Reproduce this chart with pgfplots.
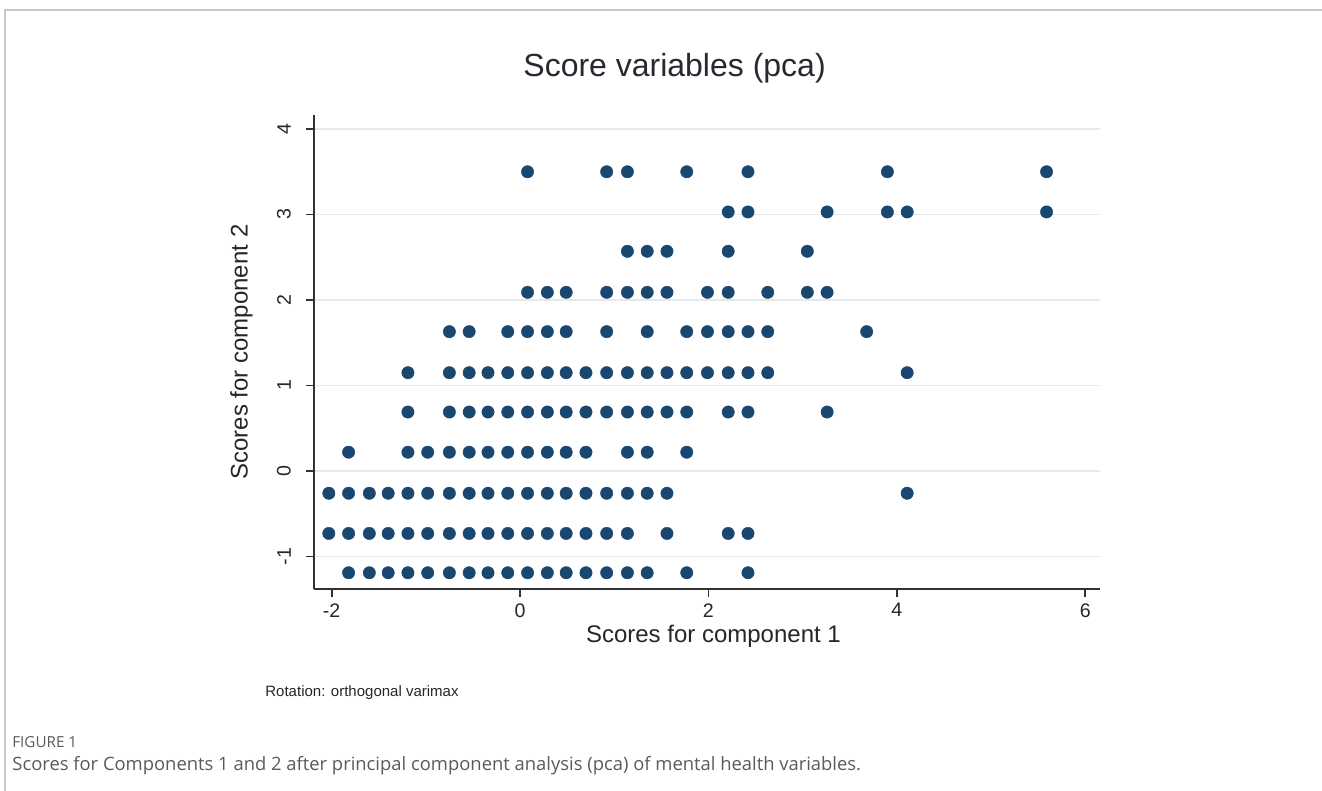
\documentclass[border=0pt]{standalone}
\usepackage{fontspec}
\setmainfont{Liberation Sans}
\newfontfamily\capfont{Open Sans}
\usepackage{pgfplots}
\pgfplotsset{compat=1.18}
\definecolor{statanavy}{RGB}{26,71,111}
\definecolor{gridc}{RGB}{230,233,236}
\definecolor{axisc}{RGB}{50,50,50}
\definecolor{capgray}{RGB}{90,90,90}
\definecolor{framec}{RGB}{200,200,200}
\definecolor{titlec}{RGB}{40,40,48}

\pgfplotstableread{
x y
0.08 3.50
0.92 3.50
1.14 3.50
1.77 3.50
2.42 3.50
3.90 3.50
5.59 3.50
2.21 3.03
2.42 3.03
3.26 3.03
3.90 3.03
4.11 3.03
5.59 3.03
1.14 2.57
1.35 2.57
1.56 2.57
2.21 2.57
3.05 2.57
0.08 2.09
0.29 2.09
0.49 2.09
0.92 2.09
1.14 2.09
1.35 2.09
1.56 2.09
1.99 2.09
2.21 2.09
2.63 2.09
3.05 2.09
3.26 2.09
-0.75 1.63
-0.54 1.63
-0.13 1.63
0.08 1.63
0.29 1.63
0.49 1.63
0.92 1.63
1.35 1.63
1.77 1.63
1.99 1.63
2.21 1.63
2.42 1.63
2.63 1.63
3.68 1.63
-1.19 1.15
-0.75 1.15
-0.54 1.15
-0.34 1.15
-0.13 1.15
0.08 1.15
0.29 1.15
0.49 1.15
0.70 1.15
0.92 1.15
1.14 1.15
1.35 1.15
1.56 1.15
1.77 1.15
1.99 1.15
2.21 1.15
2.42 1.15
2.63 1.15
4.11 1.15
-1.19 0.69
-0.75 0.69
-0.54 0.69
-0.34 0.69
-0.13 0.69
0.08 0.69
0.29 0.69
0.49 0.69
0.70 0.69
0.92 0.69
1.14 0.69
1.35 0.69
1.56 0.69
1.77 0.69
2.21 0.69
2.42 0.69
3.26 0.69
-1.82 0.22
-1.19 0.22
-0.98 0.22
-0.75 0.22
-0.54 0.22
-0.34 0.22
-0.13 0.22
0.08 0.22
0.29 0.22
0.49 0.22
0.70 0.22
1.14 0.22
1.35 0.22
1.77 0.22
-2.03 -0.26
-1.82 -0.26
-1.60 -0.26
-1.40 -0.26
-1.19 -0.26
-0.98 -0.26
-0.75 -0.26
-0.54 -0.26
-0.34 -0.26
-0.13 -0.26
0.08 -0.26
0.29 -0.26
0.49 -0.26
0.70 -0.26
0.92 -0.26
1.14 -0.26
1.35 -0.26
1.56 -0.26
4.11 -0.26
-2.03 -0.73
-1.82 -0.73
-1.60 -0.73
-1.40 -0.73
-1.19 -0.73
-0.98 -0.73
-0.75 -0.73
-0.54 -0.73
-0.34 -0.73
-0.13 -0.73
0.08 -0.73
0.29 -0.73
0.49 -0.73
0.70 -0.73
0.92 -0.73
1.14 -0.73
1.56 -0.73
2.21 -0.73
2.42 -0.73
-1.82 -1.19
-1.60 -1.19
-1.40 -1.19
-1.19 -1.19
-0.98 -1.19
-0.75 -1.19
-0.54 -1.19
-0.34 -1.19
-0.13 -1.19
0.08 -1.19
0.29 -1.19
0.49 -1.19
0.70 -1.19
0.92 -1.19
1.14 -1.19
1.35 -1.19
1.77 -1.19
2.42 -1.19
}\scores

\begin{document}
\begin{tikzpicture}[x=0.5pt,y=-0.5pt]
\path[use as bounding box] (0,0) rectangle (1322,791);
% figure frame
\draw[framec, line width=0.75pt] (5,791) -- (5,10) -- (1322,10);

\begin{axis}[
  at={(157.15pt,-294.5pt)}, anchor=south west,
  scale only axis, width=392.85pt, height=237pt,
  xmin=-2.184, xmax=6.157, ymin=-1.380, ymax=4.164,
  axis x line*=bottom, axis y line*=left,
  axis line style={draw=axisc, line width=0.9pt, -},
  xtick={-2,0,2,4,6}, ytick={-1,0,1,2,3,4},
  minor tick num=0,
  tick align=outside, major tick length=4pt,
  every tick/.style={axisc, line width=0.9pt},
  ymajorgrids, grid style={gridc, line width=0.8pt},
  tick label style={font=\fontsize{9.8}{10}\selectfont, text=black!85},
  /pgf/number format/assume math mode=true,
  xticklabel style={anchor=north, inner sep=0pt, yshift=-3pt},
  yticklabel style={xshift=-7.5pt, rotate=90, anchor=south, inner sep=0pt},
  xlabel={Scores for component 1}, ylabel={Scores for component 2},
  label style={font=\fontsize{12}{13}\selectfont, text=black!85},
  xlabel style={at={(axis description cs:0.508,0)}, anchor=center, yshift=-23.5pt},
  ylabel style={at={(axis description cs:-0.0929,0.5)}, anchor=center},
]
\addplot[only marks, mark=*, mark size=3.1pt,
  mark options={fill=statanavy, draw=statanavy, line width=0.2pt}]
  table[x=x, y=y] {\scores};
\end{axis}

\node[anchor=base west, inner sep=0pt, text=titlec, font=\fontsize{16}{18}\selectfont] at (523,77) {Score variables (pca)};
\node[anchor=base west, inner sep=0pt, text=black!85, font=\fontsize{7.5}{9}\selectfont] at (265,696) {Rotation: orthogonal varimax};
\node[anchor=base west, inner sep=0pt, text=capgray, font=\capfont\fontsize{7.6}{9}\selectfont] at (12,747) {FIGURE 1};
\node[anchor=base west, inner sep=0pt, text=capgray, font=\capfont\fontsize{9.2}{11}\selectfont] at (12,770) {Scores for Components 1 and 2 after principal component analysis (pca) of mental health variables.};
\end{tikzpicture}
\end{document}
